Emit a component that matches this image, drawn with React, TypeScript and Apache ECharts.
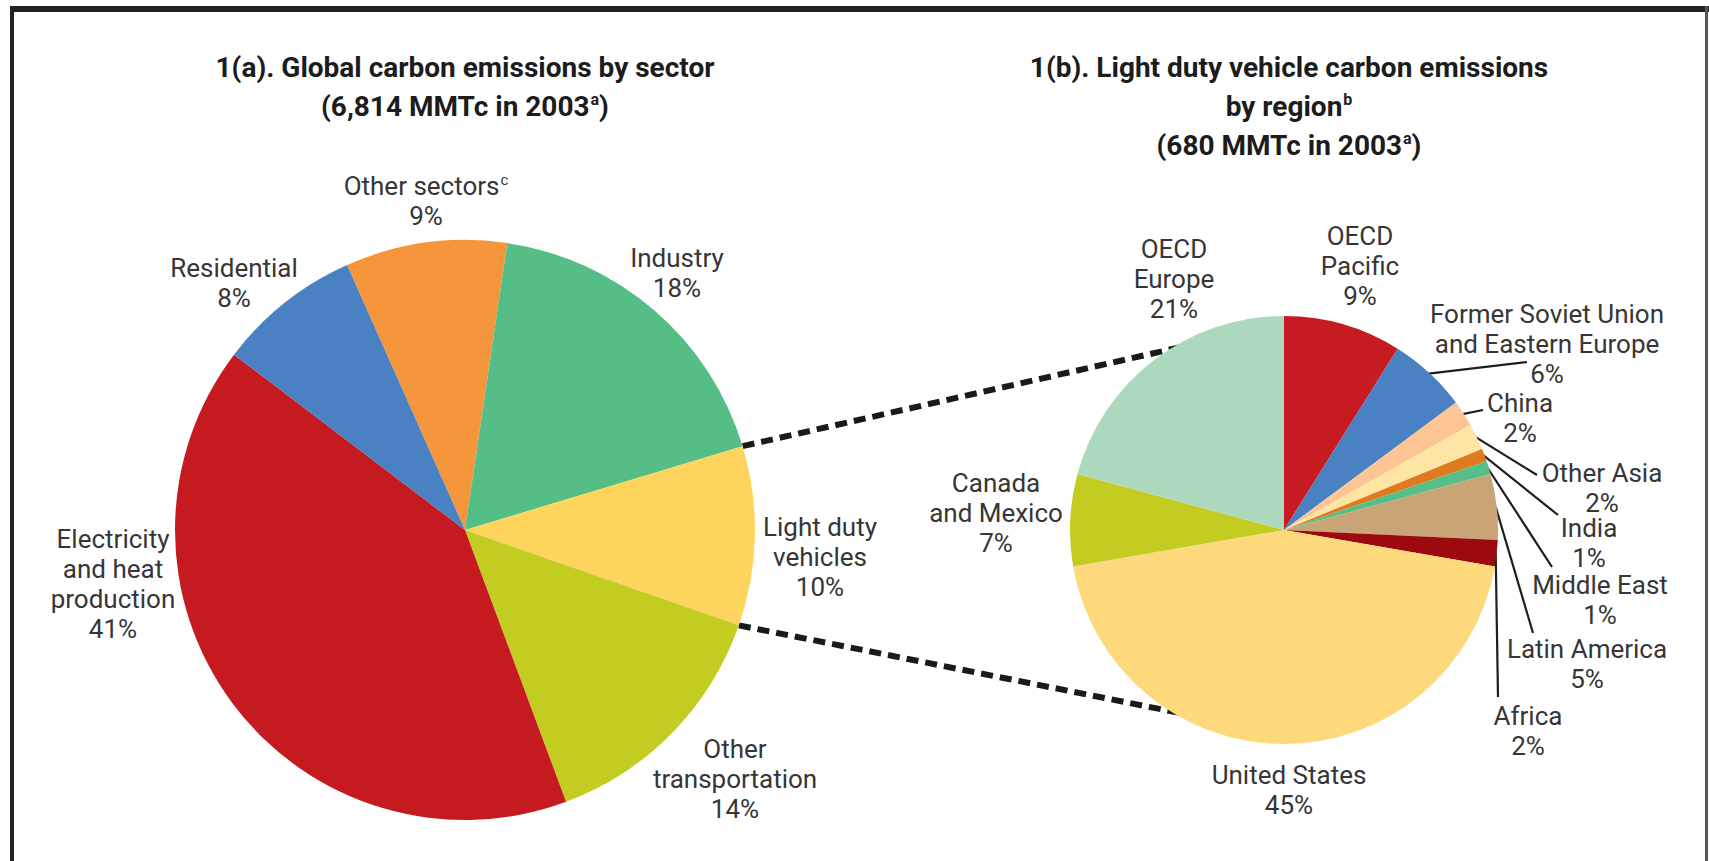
import { useEffect, useRef } from 'react';
import * as echarts from 'echarts';

// ---- Data -------------------------------------------------------------
const SECTORS = [
  'Other sectors',
  'Industry',
  'Light duty vehicles',
  'Other transportation',
  'Electricity and heat production',
  'Residential',
];
const SECTOR_SHARE = [9, 18, 10, 14, 41, 8];
const SECTOR_LABEL_LINES = [
  ['Other sectors'],
  ['Industry'],
  ['Light duty', 'vehicles'],
  ['Other', 'transportation'],
  ['Electricity', 'and heat', 'production'],
  ['Residential'],
];
const SECTOR_NOTES = ['c', '', '', '', '', ''];

const REGIONS = [
  'OECD Pacific',
  'Former Soviet Union and Eastern Europe',
  'China',
  'Other Asia',
  'India',
  'Middle East',
  'Latin America',
  'Africa',
  'United States',
  'Canada and Mexico',
  'OECD Europe',
];
const REGION_SHARE = [9, 6, 2, 2, 1, 1, 5, 2, 45, 7, 21];
const REGION_LABEL_LINES = [
  ['OECD', 'Pacific'],
  ['Former Soviet Union', 'and Eastern Europe'],
  ['China'],
  ['Other Asia'],
  ['India'],
  ['Middle East'],
  ['Latin America'],
  ['Africa'],
  ['United States'],
  ['Canada', 'and Mexico'],
  ['OECD', 'Europe'],
];

// ---- Styling & layout -------------------------------------------------
const W = 1709;
const H = 861;
const FONT = 'Roboto, "DejaVu Sans Condensed", sans-serif';
const TEXT = '#363636';
const TITLE = '#1c1c1c';

const SECTOR_COLORS = ['#F5963D', '#55BD86', '#FDD55C', '#C3CC21', '#C61A21', '#4A81C2'];
const REGION_COLORS = [
  '#C51B21', '#4A81C2', '#FCC593', '#FEE5A3', '#E07A1E', '#56BE86',
  '#C9A477', '#9C0A10', '#FDD97C', '#C3CC21', '#ACD9BE',
];

const SECTOR_PIE = { cx: 465, cy: 530, r: 290, start: 114 };
const REGION_PIE = { cx: 1284, cy: 530, r: 214, start: 90 };

const SECTOR_LABEL_AT = [
  [426, 201], [677, 273], [820, 557], [735, 779], [113, 584], [234, 283],
];
const REGION_LABEL_AT = [
  [1360, 266], [1547, 344], [1520, 418], [1602, 488], [1589, 543], [1600, 600],
  [1587, 664], [1528, 731], [1289, 790], [996, 513], [1174, 279],
];
// End points of the leader lines for the thin slices (null: no leader line)
const REGION_LEADER_END: (number[] | null)[] = [
  null, [1527, 362], [1483, 410], [1537, 475], [1558, 515], [1552, 567],
  [1533, 633], [1498, 697], null, null, null,
];
// Clock angles on the regional pie where the dashed zoom lines meet it
const CONNECTOR_CLOCK = [333, 207];

// ---- Helpers ----------------------------------------------------------
type Pie = { cx: number; cy: number; r: number; start: number };

const rimPoint = (pie: Pie, clockDeg: number, scale = 1) => {
  const a = (clockDeg * Math.PI) / 180;
  return [pie.cx + pie.r * scale * Math.sin(a), pie.cy - pie.r * scale * Math.cos(a)];
};

// Clock angle (0 = 12 o'clock, clockwise) of a cumulative share position
const clockAt = (pie: Pie, values: number[], upTo: number) => {
  const total = values.reduce((s, v) => s + v, 0);
  return 90 - pie.start + (upTo / total) * 360;
};

const cumulative = (values: number[], i: number) =>
  values.slice(0, i).reduce((s, v) => s + v, 0);

const labelText = (lines: string[], note: string, value: number) => {
  const body = lines
    .map((l, i) => `{n|${l}}` + (i === lines.length - 1 && note ? `{s|${note}}` : ''))
    .join('\n');
  return `${body}\n{n|${value}%}`;
};

const labelRich = {
  n: { fontFamily: FONT, fontSize: 26, fontWeight: 400, lineHeight: 30, color: TEXT },
  s: {
    fontFamily: FONT, fontSize: 15, fontWeight: 400, lineHeight: 16,
    verticalAlign: 'top', color: TEXT, padding: [1, 0, 0, 1],
  },
};

const titleRich = {
  t: { fontFamily: FONT, fontSize: 28, fontWeight: 'bold', lineHeight: 39, color: TITLE },
  u: {
    fontFamily: FONT, fontSize: 16, fontWeight: 'bold', lineHeight: 18,
    verticalAlign: 'top', color: TITLE, padding: [4, 0, 0, 1],
  },
};

function buildOption() {
  const ldv = SECTORS.indexOf('Light duty vehicles');
  const ldvFrom = clockAt(SECTOR_PIE, SECTOR_SHARE, cumulative(SECTOR_SHARE, ldv));
  const ldvTo = clockAt(SECTOR_PIE, SECTOR_SHARE, cumulative(SECTOR_SHARE, ldv + 1));
  const connectors = [
    [rimPoint(SECTOR_PIE, ldvFrom), rimPoint(REGION_PIE, CONNECTOR_CLOCK[0], 0.97)],
    [rimPoint(SECTOR_PIE, ldvTo), rimPoint(REGION_PIE, CONNECTOR_CLOCK[1], 0.97)],
  ];

  const frame = { stroke: '#222', lineCap: 'butt' };

  return {
    animation: false,
    backgroundColor: '#ffffff',
    title: [
      {
        text: '{t|1(a). Global carbon emissions by sector}\n{t|(6,814 MMTc in 2003}{u|a}{t|)}',
        left: 465,
        top: 48,
        textAlign: 'center',
        padding: 0,
        textStyle: { rich: titleRich },
      },
      {
        text:
          '{t|1(b). Light duty vehicle carbon emissions}\n{t|by region}{u|b}\n{t|(680 MMTc in 2003}{u|a}{t|)}',
        left: 1289,
        top: 48,
        textAlign: 'center',
        padding: 0,
        textStyle: { rich: titleRich },
      },
    ],
    graphic: {
      elements: [
        { type: 'line', z: 0, shape: { x1: 10, y1: 9, x2: W, y2: 9 }, style: { ...frame, lineWidth: 6 } },
        { type: 'line', z: 0, shape: { x1: 12, y1: 6, x2: 12, y2: H }, style: { ...frame, lineWidth: 4 } },
        {
          type: 'line', z: 0, shape: { x1: 1706.5, y1: 6, x2: 1706.5, y2: H },
          style: { stroke: '#555', lineWidth: 3 },
        },
        ...connectors.map(([a, b]) => ({
          type: 'line',
          z: 0,
          shape: { x1: a[0], y1: a[1], x2: b[0], y2: b[1] },
          style: { stroke: '#1a1a1a', lineWidth: 6, lineDash: [12, 7] },
        })),
      ],
    },
    series: [
      {
        type: 'pie',
        name: 'Global carbon emissions by sector',
        z: 5,
        silent: true,
        center: [SECTOR_PIE.cx, SECTOR_PIE.cy],
        radius: SECTOR_PIE.r,
        startAngle: SECTOR_PIE.start,
        clockwise: true,
        avoidLabelOverlap: false,
        itemStyle: { borderWidth: 0 },
        data: SECTORS.map((name, i) => ({
          name,
          value: SECTOR_SHARE[i],
          itemStyle: { color: SECTOR_COLORS[i] },
        })),
        label: {
          show: true,
          position: 'outside',
          color: TEXT,
          formatter: (p: any) =>
            labelText(SECTOR_LABEL_LINES[p.dataIndex], SECTOR_NOTES[p.dataIndex], p.value),
          rich: labelRich,
        },
        labelLine: { show: false },
        labelLayout: (p: any) => ({
          x: SECTOR_LABEL_AT[p.dataIndex][0],
          y: SECTOR_LABEL_AT[p.dataIndex][1],
          align: 'center',
          verticalAlign: 'middle',
        }),
      },
      {
        type: 'pie',
        name: 'Light duty vehicle carbon emissions by region',
        z: 5,
        silent: true,
        center: [REGION_PIE.cx, REGION_PIE.cy],
        radius: REGION_PIE.r,
        startAngle: REGION_PIE.start,
        clockwise: true,
        avoidLabelOverlap: false,
        itemStyle: { borderWidth: 0 },
        data: REGIONS.map((name, i) => ({
          name,
          value: REGION_SHARE[i],
          itemStyle: { color: REGION_COLORS[i] },
          labelLine: { show: REGION_LEADER_END[i] !== null },
        })),
        label: {
          show: true,
          position: 'outside',
          color: TEXT,
          formatter: (p: any) => labelText(REGION_LABEL_LINES[p.dataIndex], '', p.value),
          rich: labelRich,
        },
        labelLine: { show: true, lineStyle: { color: '#1e1e1e', width: 2.2 } },
        labelLayout: (p: any) => {
          const i = p.dataIndex;
          const out: any = {
            x: REGION_LABEL_AT[i][0],
            y: REGION_LABEL_AT[i][1],
            align: 'center',
            verticalAlign: 'middle',
          };
          const end = REGION_LEADER_END[i];
          if (end) {
            const mid = clockAt(
              REGION_PIE,
              REGION_SHARE,
              cumulative(REGION_SHARE, i) + REGION_SHARE[i] / 2,
            );
            out.labelLinePoints = [rimPoint(REGION_PIE, mid, 0.995), end];
          }
          return out;
        },
      },
    ],
  };
}

export default function App() {
  const ref = useRef<HTMLDivElement>(null);

  useEffect(() => {
    if (!ref.current) return;
    const chart = echarts.init(ref.current, null, { renderer: 'svg' });
    chart.setOption(buildOption() as any);
    return () => chart.dispose();
  }, []);

  return (
    <div
      ref={ref}
      style={{ position: 'fixed', left: 0, top: 0, width: W, height: H, background: '#fff' }}
    />
  );
}
